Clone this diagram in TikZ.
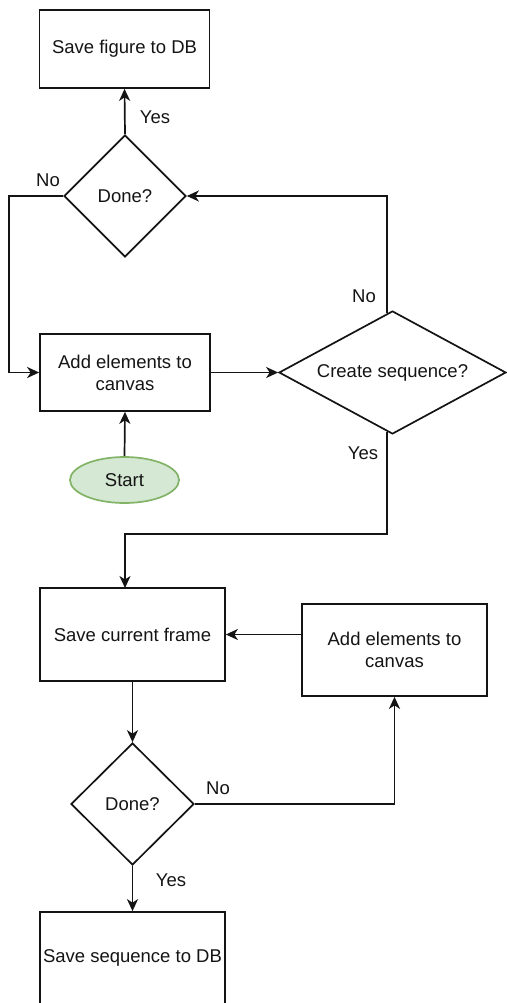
\documentclass[tikz,border=0pt]{standalone}
\usepackage{fontspec}
\setmainfont{Liberation Sans}
\usetikzlibrary{shapes.geometric,arrows.meta,calc}
\definecolor{startfill}{HTML}{D5E8D4}
\definecolor{startline}{HTML}{82B366}
\definecolor{ink}{HTML}{141414}
\tikzset{
  every node/.style={font=\fontsize{18.5}{22}\selectfont, text=ink},
  procbox/.style={draw=ink, line width=1.7pt, rectangle, inner sep=2pt, align=center},
  decision/.style={draw=ink, line width=1.7pt, diamond, inner sep=0pt, align=center},
  terminal/.style={draw=startline, fill=startfill, line width=1.7pt, ellipse, inner sep=0pt},
  flow/.style={draw=ink, line width=1.7pt, -{Stealth[length=12pt,width=11pt,inset=3.5pt]}},
  lbl/.style={inner sep=0pt}
}
\begin{document}
\begin{tikzpicture}[x=1pt,y=-1pt]
  \useasboundingbox (0,0) rectangle (506,1003);

  % upper part: single figure
  \node[procbox, minimum width=170pt, minimum height=78pt] (b1) at (124.5,49) {Save figure to DB};
  \node[decision, minimum width=122pt, minimum height=122pt] (d1) at (125,196) {Done?};
  \node[procbox, minimum width=170pt, minimum height=77pt] (b2) at (125,372.5) {Add elements to\\canvas};
  \node[decision, aspect=1.85, minimum width=227pt, minimum height=123pt] (d2) at (392.5,372.5) {Create sequence?};
  \node[terminal, minimum width=109pt, minimum height=46pt] (st) at (124.5,480) {Start};

  % lower part: sequence of frames
  \node[procbox, minimum width=185pt, minimum height=93pt] (b3) at (132.5,634.5) {Save current frame};
  \node[procbox, minimum width=185pt, minimum height=92pt] (b4) at (394.5,650) {Add elements to\\canvas};
  \node[decision, minimum width=123pt, minimum height=122pt] (d3) at (132.5,804) {Done?};
  \node[procbox, minimum width=185pt, minimum height=92pt] (b5) at (132.5,958) {Save sequence to DB};

  % helper points
  \coordinate (d2top) at ($(d2.north)!0.05!(d2.west)$);
  \coordinate (d2bot) at ($(d2.south)!0.05!(d2.west)$);
  \coordinate (noleft) at (9,196);
  \coordinate (nobend) at (9,372.5);
  \coordinate (upcorner) at (d2top |- d1.east);
  \coordinate (yesbend) at (d2bot |- 0,534);
  \coordinate (yesleft) at (125,534);
  \coordinate (b3in) at (125,588);
  \coordinate (b4out) at (b4.west |- b3.east);
  \coordinate (nocorner) at (b4.south |- d3.east);

  % connectors
  \draw[flow] (d1.north) -- (b1.south);
  \draw[flow] (d1.west) -- (noleft) -- (nobend) -- (b2.west);
  \draw[flow] (b2.east) -- (d2.west);
  \draw[flow] (d2top) -- (upcorner) -- (d1.east);
  \draw[flow] (st.north) -- (b2.south);
  \draw[flow] (d2bot) -- (yesbend) -- (yesleft) -- (b3in);
  \draw[flow] (b4out) -- (b3.east);
  \draw[flow] (b3.south) -- (d3.north);
  \draw[flow] (d3.east) -- (nocorner) -- (b4.south);
  \draw[flow] (d3.south) -- (b5.north);

  % branch labels
  \node[lbl] (l1) at (155,117) {Yes};
  \node[lbl] (l2) at (48,180) {No};
  \node[lbl] (l3) at (364,296) {No};
  \node[lbl] (l4) at (363,453) {Yes};
  \node[lbl] (l5) at (218,788) {No};
  \node[lbl] (l6) at (171,880) {Yes};
\end{tikzpicture}
\end{document}
